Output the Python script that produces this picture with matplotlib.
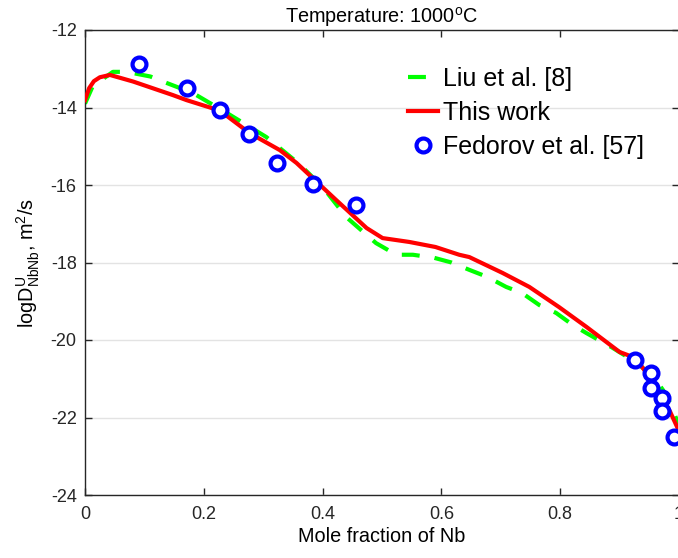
#!/usr/bin/env python3
"""Uncorrelated diffusivity of Nb in U-Nb at 1000 C, recreated with matplotlib."""

import matplotlib

matplotlib.use("Agg")
import matplotlib.pyplot as plt

plt.rcParams["font.family"] = ["Liberation Sans", "DejaVu Sans"]
plt.rcParams["mathtext.default"] = "regular"
plt.rcParams["axes.unicode_minus"] = False

# Liu et al. [8] (green dashed)
liu_x = [0.0, 0.013, 0.047, 0.07, 0.11, 0.138, 0.182, 0.244, 0.305, 0.36, 0.40,
         0.44, 0.49, 0.524, 0.552, 0.588, 0.617, 0.647, 0.677, 0.709, 0.736,
         0.765, 0.793, 0.82, 0.844, 0.888, 0.93, 0.96, 0.98, 1.0]
liu_y = [-13.9, -13.45, -13.08, -13.08, -13.2, -13.37, -13.63, -14.19, -14.76,
         -15.45, -16.05, -16.83, -17.5, -17.8, -17.8, -17.88, -18.0, -18.19,
         -18.37, -18.63, -18.79, -19.1, -19.3, -19.6, -19.82, -20.2, -20.6,
         -21.0, -21.45, -22.2]

# This work (red solid)
this_x = [0.0, 0.007, 0.015, 0.025, 0.042, 0.081, 0.148, 0.171, 0.227, 0.277,
          0.328, 0.356, 0.423, 0.474, 0.501, 0.546, 0.59, 0.63, 0.647, 0.703,
          0.748, 0.798, 0.844, 0.9, 0.926, 0.953, 0.971, 0.985, 1.0]
this_y = [-13.81, -13.5, -13.32, -13.22, -13.16, -13.33, -13.68, -13.81, -14.08,
          -14.66, -15.1, -15.43, -16.39, -17.11, -17.37, -17.47, -17.6, -17.8,
          -17.86, -18.27, -18.63, -19.15, -19.66, -20.31, -20.46, -21.0, -21.5,
          -21.85, -22.35]

# Fedorov et al. [57] (blue circles)
fed_x = [0.091, 0.171, 0.227, 0.276, 0.324, 0.383, 0.457, 0.926, 0.953, 0.953,
         0.971, 0.971, 0.992]
fed_y = [-12.88, -13.50, -14.06, -14.68, -15.43, -15.97, -16.52, -20.52, -20.85,
         -21.24, -21.5, -21.83, -22.5]

x_ticks = [0, 0.2, 0.4, 0.6, 0.8, 1]
y_ticks = [-24, -22, -20, -18, -16, -14, -12]

AXIS_COLOR = "#262626"

fig = plt.figure(figsize=(6.78, 5.58), dpi=100)
ax = fig.add_axes([85 / 678, 63 / 558, 594 / 678, 465 / 558])

ax.plot(liu_x, liu_y, color="#00ff00", lw=3.0, ls=(0, (4.3, 3.6)),
        label="Liu et al. [8]", zorder=2)
ax.plot(this_x, this_y, color="#ff0000", lw=3.0, label="This work", zorder=3)
ax.plot(fed_x, fed_y, ls="none", marker="o", ms=10, mew=3,
        mec="#0000ff", mfc="white", label="Fedorov et al. [57]", zorder=4)

ax.set_xlim(0, 1)
ax.set_ylim(-24, -12)
ax.set_xticks(x_ticks)
ax.set_xticklabels(["0", "0.2", "0.4", "0.6", "0.8", "1"])
ax.set_yticks(y_ticks)
ax.yaxis.grid(True, color="#e3e3e3", lw=1.0)
ax.set_axisbelow(True)

for side in ax.spines.values():
    side.set_color(AXIS_COLOR)
    side.set_linewidth(1.0)
ax.tick_params(direction="in", length=5, width=1.0, colors=AXIS_COLOR,
               labelsize=13, top=True, right=True)
ax.tick_params(axis="x", pad=8)
ax.tick_params(axis="y", pad=6)

ax.set_xlabel("Mole fraction of Nb", fontsize=14.3, color="#000000", labelpad=3)
ax.set_ylabel("logD$^{U}_{NbNb}$, m$^{2}$/s", fontsize=14.3, color="#000000",
              labelpad=6)
ax.set_title("Temperature: 1000$^{o}$C", fontsize=14.3, pad=5)

ax.legend(loc="upper left", bbox_to_anchor=(0.5438, 0.92), frameon=False,
          fontsize=18, handlelength=1.2, handletextpad=0.2,
          labelspacing=0.4, borderpad=0, borderaxespad=0)

fig.savefig("out.png", dpi=100, facecolor="white")
